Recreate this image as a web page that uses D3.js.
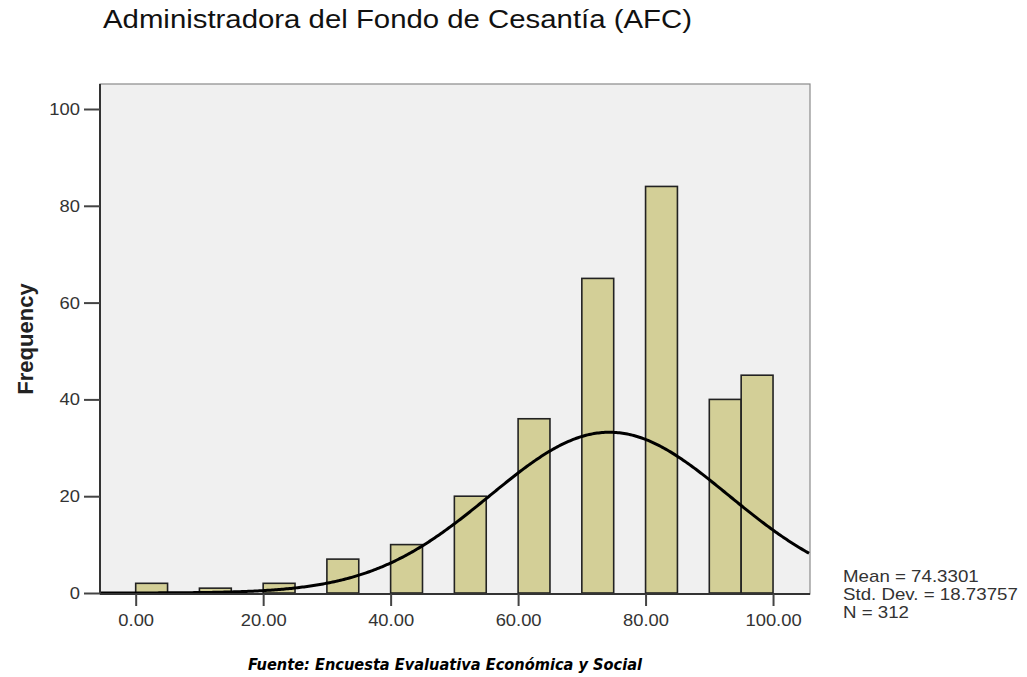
<!DOCTYPE html>
<html><head><meta charset="utf-8">
<script src="https://cdn.jsdelivr.net/npm/d3@7"></script>
<style>body{margin:0;background:#fff}svg{display:block}</style>
</head><body>
<svg id="c" width="1027" height="677"></svg>
<script>
const binStarts = [0, 10, 20, 30, 40, 50, 60, 70, 80, 90, 95];
const binWidth = 5;
const frequencies = [2, 1, 2, 7, 10, 20, 36, 65, 84, 40, 45];
const xTicks = [0, 20, 40, 60, 80, 100];
const yTicks = [0, 20, 40, 60, 80, 100];
const stats = {mean: 74.3301, sd: 18.73757, n: 312};
const statLines = ["Mean = 74.3301", "Std. Dev. = 18.73757", "N = 312"];

const FONT = "Liberation Sans, Arial, sans-serif";
const svg = d3.select("#c");
const L = 100, R = 810, T = 84, B = 594;
const x = d3.scaleLinear().domain([-5.6, 105.8]).range([L, R]);
const y = d3.scaleLinear().domain([0, 100]).range([593, 109]);

function stretch(sel, f) {
  sel.each(function () {
    const w = this.getComputedTextLength();
    d3.select(this).attr("textLength", w * f).attr("lengthAdjust", "spacingAndGlyphs");
  });
}

svg.append("text").attr("x", 103).attr("y", 28)
  .attr("font-family", FONT).attr("font-size", 25).attr("fill", "#111")
  .attr("textLength", 589).attr("lengthAdjust", "spacingAndGlyphs")
  .text("Administradora del Fondo de Cesantía (AFC)");

svg.append("rect").attr("x", L).attr("y", T).attr("width", R - L).attr("height", B - T)
  .attr("fill", "#f0f0f0").attr("stroke", "#8a8a8a").attr("stroke-width", 1.2);

svg.selectAll("rect.bar").data(binStarts).join("rect").attr("class", "bar")
  .attr("x", d => x(d)).attr("width", d => x(d + binWidth) - x(d))
  .attr("y", (d, i) => y(frequencies[i])).attr("height", (d, i) => y(0) - y(frequencies[i]))
  .attr("fill", "#d3cf97").attr("stroke", "#222").attr("stroke-width", 1.6);

// normal curve fitted from the displayed statistics
const pdf = v => stats.n * binWidth * Math.exp(-0.5 * ((v - stats.mean) / stats.sd) ** 2) / (stats.sd * Math.sqrt(2 * Math.PI));
const xs = d3.range(x.domain()[0], x.domain()[1] + 0.01, 0.25);
svg.append("path").datum(xs)
  .attr("d", d3.line().x(d => x(d)).y(d => y(pdf(d))))
  .attr("fill", "none").attr("stroke", "#000").attr("stroke-width", 3);

// axes
const yAxis = svg.append("g").attr("transform", `translate(${L},0)`)
  .call(d3.axisLeft(y).tickValues(yTicks).tickSize(16).tickPadding(4).tickFormat(d3.format("d")));
const xAxis = svg.append("g").attr("transform", `translate(0,${B})`)
  .call(d3.axisBottom(x).tickValues(xTicks).tickSize(12).tickPadding(7).tickFormat(d3.format(".2f")));
[yAxis, xAxis].forEach(g => {
  g.select(".domain").attr("stroke", "#333").attr("stroke-width", 2);
  g.selectAll(".tick line").attr("stroke", "#444").attr("stroke-width", 2);
  g.selectAll(".tick text").attr("font-family", FONT).attr("font-size", 17).attr("fill", "#333");
  stretch(g.selectAll(".tick text"), 1.08);
});
xAxis.selectAll(".tick text").attr("dy", null).attr("y", 32);
xAxis.select(".domain").attr("d", `M${L},0H${R}`);
yAxis.select(".domain").attr("d", `M0,${B}V${T}`);

svg.append("text").attr("transform", "translate(33,339) rotate(-90)").attr("text-anchor", "middle")
  .attr("font-family", FONT).attr("font-weight", "bold").attr("font-size", 22).attr("fill", "#222")
  .text("Frequency");

const st = svg.selectAll("text.stat").data(statLines).join("text").attr("class", "stat")
  .attr("x", 843).attr("y", (d, i) => 582 + i * 18)
  .attr("font-family", FONT).attr("font-size", 17).attr("fill", "#333")
  .text(d => d);
stretch(st, 1.1);

svg.append("text").attr("x", 248).attr("y", 670)
  .attr("font-family", "DejaVu Sans, sans-serif").attr("font-weight", "bold").attr("font-style", "italic")
  .attr("font-size", 16).attr("fill", "#000")
  .attr("textLength", 394).attr("lengthAdjust", "spacingAndGlyphs")
  .text("Fuente: Encuesta Evaluativa Económica y Social");
</script>
</body></html>
